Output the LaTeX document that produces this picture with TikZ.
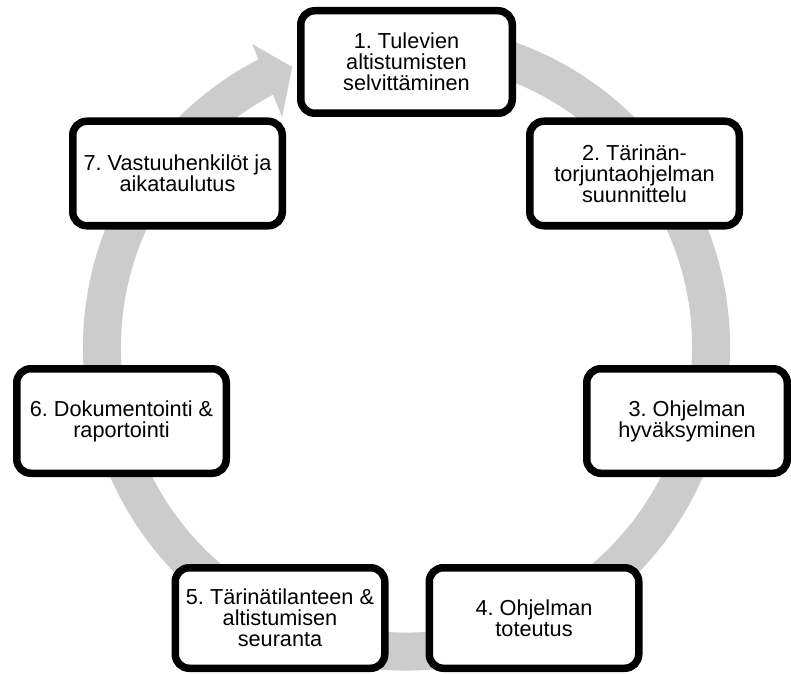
\documentclass[tikz,border=0pt]{standalone}
\usepackage{fontspec}
\setmainfont{Liberation Sans}
\definecolor{ringgray}{RGB}{204,204,204}
\frenchspacing

\begin{document}
\begin{tikzpicture}[x=1pt,y=1pt,
	phase/.style={draw, line width=7.5pt, rounded corners=14pt, fill=white, align=center, inner sep=0pt, minimum width=209.5pt, minimum height=104.5pt, font=\fontsize{21.7}{21.2}\selectfont},
	loop/.style={line width=38pt, color=ringgray}]
\useasboundingbox (0,0) rectangle (791,673);
\coordinate (hub) at (406.5,326);
\draw[loop] (hub) ++(80:304.5) arc[start angle=80, end angle=-243, radius=304.5];
\fill[ringgray, shift={(hub)}] (117:340) -- (112.2:302.5) -- (118.4:261.5) -- cycle;
\node[phase, minimum width=211.5pt, minimum height=102.5pt] (p1) at (406.5,611) {1. Tulevien\\altistumisten\\selvittäminen};
\node[phase] (p2) at (634.5,499.5) {2. Tärinän-\\torjuntaohjelman\\suunnittelu};
\node[phase, minimum width=200.5pt] (p3) at (687,252) {3. Ohjelman\\hyväksyminen};
\node[phase, minimum height=100.5pt] (p4) at (534,55) {4. Ohjelman\\toteutus};
\node[phase, minimum height=100.5pt] (p5) at (280,55) {5. Tärinätilanteen \&\\altistumisen\\seuranta};
\node[phase] (p6) at (121.5,252) {6. Dokumentointi \&\\raportointi};
\node[phase] (p7) at (177.5,499.5) {7. Vastuuhenkilöt ja\\aikataulutus};
\end{tikzpicture}
\end{document}
